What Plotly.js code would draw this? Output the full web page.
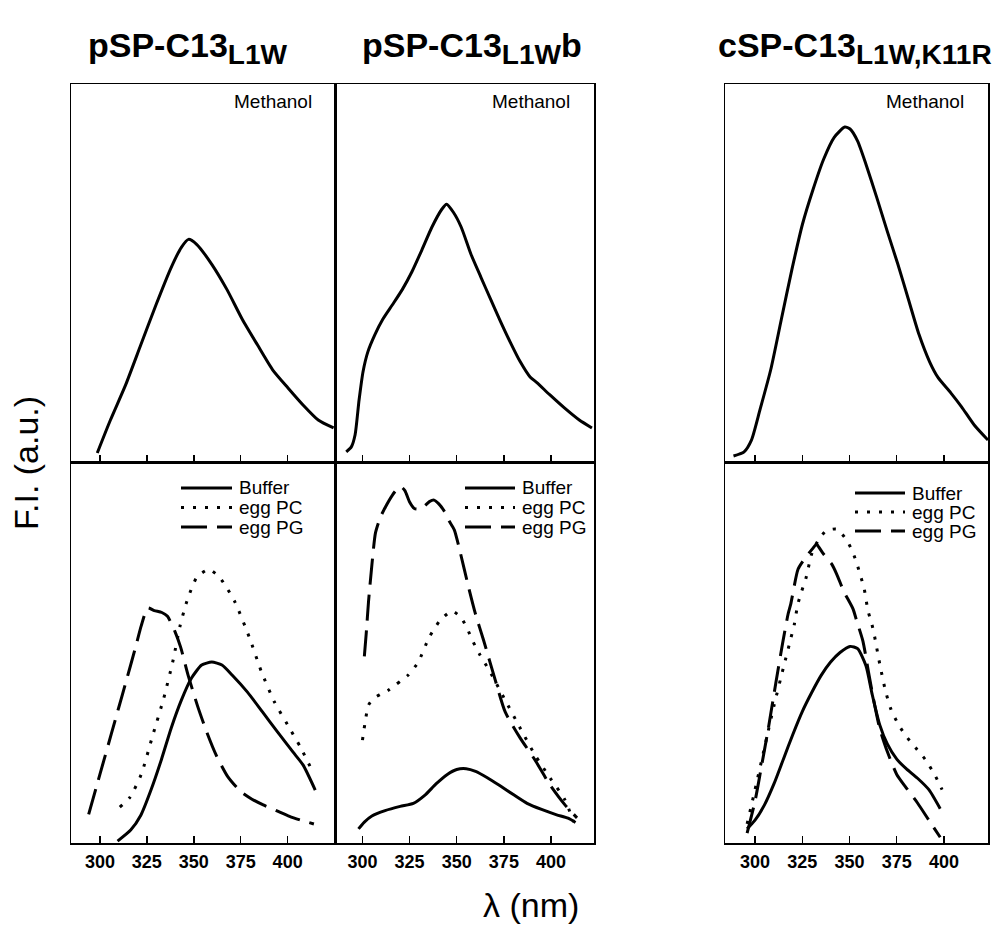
<!DOCTYPE html>
<html>
<head>
<meta charset="utf-8">
<script src="https://cdn.plot.ly/plotly-3.0.1.min.js"></script>
<style>html,body{margin:0;padding:0;background:#fff;}#chart{width:992px;height:934px;}</style>
</head>
<body>
<div id="chart"></div>
<script>
// ---------- data (wavelength in nm, fluorescence intensity in a.u., 0-100 scale per panel) ----------
const panelTitles = ['pSP-C13<sub><span style="font-size:118%">L1W</span></sub>',
                     'pSP-C13<sub><span style="font-size:118%">L1W</span></sub>b',
                     'cSP-C13<sub><span style="font-size:118%">L1W,K11R</span></sub>'];
const seriesNames = ['Buffer', 'egg PC', 'egg PG'];
const topLabel = 'Methanol';
const tickValues = [300, 325, 350, 375, 400];
const tickLabels = ['300', '325', '350', '375', '400'];

// Panel 1: pSP-C13 L1W
const p1_meth_x = [298.6,305.6,313.7,321.8,329.9,338,343.4,347.2,351.5,359.6,367.7,375.9,383.9,392,400.2,408.2,416.3,424.5];
const p1_meth_y = [2.4,11.1,20.4,31.0,41.6,51.5,56.8,58.9,57.6,52.3,45.6,37.7,31.0,24.4,19.6,15.1,11.1,9.0];
const p1_buf_x = [309.4,316.4,321.8,327.2,332.7,338,343.4,348.8,354.2,359.6,365,370.4,378.6,386.6,394.7,402.8,408.2,414.7];
const p1_buf_y = [0.5,3.4,7.3,13.9,21.8,30.2,37.5,43.3,46.7,47.5,46.7,44.1,39.6,34.4,29.1,23.9,20.5,13.9];
const p1_pc_x = [310.6,316,322,328,334,339,342.6,346.3,351.6,358,363.8,371.8,379.8,386,393,400,407,414];
const p1_pc_y = [9.4,12,18,28,38,48,56.8,63.4,69.7,71.8,69.7,63.4,53.7,45,37,31,25,18];
const p1_pg_x = [294,298,302,306,310,314,319,322,325.5,329,333,336,340,343,347,352,357,362,368,375,381,387,394,401,407,414];
const p1_pg_y = [7.5,14.5,21.5,28.5,35.5,42.5,51.4,57,61.7,61,60.5,59.5,55.5,51.4,44,36,29,23,17.5,13.5,11.5,10,8.5,7,6,5];

// Panel 2: pSP-C13 L1W b
const p2_meth_x = [291.4,294.1,296.1,298.2,300.3,302.9,306.6,310.7,315.9,321.1,326.3,331.6,336.8,342,344.6,348.3,352.4,357.6,362.9,368,373.3,378.5,383.7,388.9,392.5,399.3,407.1,415,421.7];
const p2_meth_y = [2.7,4.0,7.2,16.4,23.9,29.2,33.7,37.7,41.6,45.6,50.4,56.2,62.1,66.8,68.2,66.0,62.1,54.9,48.8,43.0,37.1,31.6,26.5,22.5,21.0,17.8,14.3,11.1,9.0];
const p2_buf_x = [297.9,301,305,312,320,327,333,339,345,350,355,360,366,373,380,387.3,395,403,409,413];
const p2_buf_y = [3.7,5.5,7.1,8.5,9.6,10.4,12.5,15.5,18,19.3,19.5,18.8,17.2,15,12.7,10.4,8.8,7.4,6.5,5.4];
const p2_pc_x = [300,301.5,303.2,306,309.5,313.5,317.5,321,324.3,329.6,335.4,341.3,347.6,352.4,355.6,358.7,362.4,367.7,375.7,383.6,391.5,399.5,407.4,412];
const p2_pc_y = [27,32,36.2,38,39,40,41.5,42.8,44.1,47.5,54,58.5,60.9,59.1,56.2,52.8,49.3,44.9,37.5,30.2,23.1,17.1,11.3,5.5];
const p2_pg_x = [301,302,303.2,305,306.9,309.5,312.2,315.9,318.5,320.4,322.5,325,327.5,330.4,333,335.5,338,340.5,343.5,346,348.7,352,356,360,364.2,370.4,375.7,383.6,391.5,399.5,407.4,413.8];
const p2_pg_y = [49,55,63.3,73,81.4,85.5,88.2,91.3,93,93.5,92.5,89.5,87.8,87.7,88.5,89.6,90,89,87,84.5,82.2,76,67.7,60,53.3,42.8,34.4,27.6,21.8,15.2,10,6.6];

// Panel 3: cSP-C13 L1W,K11R
const p3_meth_x = [288.6,294.2,298.1,302.6,308.3,313.9,319.5,325.1,330.7,336.3,341.9,347.5,350.3,354.3,358.7,364.4,370,375.6,381.2,386.8,392.4,396.9,403.6,409.3,416,423.3];
const p3_meth_y = [1.6,2.7,5.8,13.8,24.4,37.7,50.9,62.9,72.1,80.1,85.9,88.6,88.1,84.9,78.8,70.0,61.0,52.3,43.0,33.7,26.5,22.3,18.3,14.6,9.8,5.8];
const p3_buf_x = [295.8,300,305,310,315,320,325,330,335,340,345,350.3,354.3,358.7,362,366,370,375,380,386,392,398];
const p3_buf_y = [3.7,6,10,15.5,22,28.5,34.5,39.5,44,47.5,50,51.6,51,46.5,39,31,26,22,19.5,17,14,9];
const p3_pc_x = [295.8,300,305,310,315,319,320.8,322.6,324.7,327,330,333.5,337.6,343.2,348.5,351.9,353.8,355.9,357.7,359.8,361.7,363,366,369,372,376,380,385,390,395,399];
const p3_pc_y = [5,14,25,36,46,53.8,57.4,62.6,66.1,69.6,75.9,79.5,81.9,82.4,79.5,76.1,73.5,70,66.9,60.9,57.7,54.9,47,40,35,31,28,25,22,18,14];
const p3_pg_x = [295.8,300,303,307,311,314.8,317.5,318.9,322.8,326.5,330.7,332.6,333.3,336,340.6,343.2,347,351.9,353.8,357.1,360,363,366,370,375,380,386,392,398];
const p3_pg_y = [2.6,11,19,30,42,53,60.1,62.7,71.9,74.8,77.4,78.5,78,76,73.2,70.6,66,61.4,58.3,53,45,37,30,24,18,14.5,10.5,6,1.5];

// ---------- layout helpers ----------
const W = 992, H = 934;
const fx = x => x / W;
const fy = y => 1 - y / H;
const FONT = 'Liberation Sans, Arial, Helvetica, sans-serif';

const cols = [
  {x0: 71, x1: 335.5, range: [284.6, 425.5], title: 188},
  {x0: 335.5, x1: 594, range: [285.7, 422.8], title: 472},
  {x0: 725, x1: 988, range: [284.1, 423.3], title: 855}
];
const rows = [{y0: 84, y1: 462}, {y0: 462, y1: 843}];

const dashes = ['solid', '3px,9px', '26px,10px'];

const data = [];
const layout = {
  width: W, height: H,
  margin: {l: 0, r: 0, t: 0, b: 0},
  paper_bgcolor: '#fff', plot_bgcolor: '#fff',
  showlegend: false,
  font: {family: FONT, color: '#000'},
  annotations: [], shapes: []
};

function lineTrace(x, y, dash, ax, name) {
  const suf = ax === 1 ? '' : ax;
  return {
    x: x, y: y, type: 'scatter', mode: 'lines', name: name,
    xaxis: 'x' + suf, yaxis: 'y' + suf,
    line: {color: '#000', width: 3, dash: dash, shape: 'spline', smoothing: 0.6},
    hoverinfo: 'skip'
  };
}

const meth = [[p1_meth_x, p1_meth_y], [p2_meth_x, p2_meth_y], [p3_meth_x, p3_meth_y]];
const lower = [
  [[p1_buf_x, p1_buf_y], [p1_pc_x, p1_pc_y], [p1_pg_x, p1_pg_y]],
  [[p2_buf_x, p2_buf_y], [p2_pc_x, p2_pc_y], [p2_pg_x, p2_pg_y]],
  [[p3_buf_x, p3_buf_y], [p3_pc_x, p3_pc_y], [p3_pg_x, p3_pg_y]]
];
// legend key placement (pixels): sample start, sample end, text start, first row y, row step
const legendKeys = [[181, 232, 237, 488, 19.5], [465, 515, 520, 488, 19.5], [855, 905, 910, 493, 19]];

for (let c = 0; c < 3; c++) {
  const topAx = c + 1, botAx = c + 4;
  data.push(lineTrace(meth[c][0], meth[c][1], 'solid', topAx, topLabel));
  for (let s = 0; s < 3; s++) {
    data.push(lineTrace(lower[c][s][0], lower[c][s][1], dashes[s], botAx, seriesNames[s]));
  }
  for (let r = 0; r < 2; r++) {
    const ax = r === 0 ? topAx : botAx;
    const suf = ax === 1 ? '' : ax;
    layout['xaxis' + suf] = {
      domain: [fx(cols[c].x0), fx(cols[c].x1)],
      range: cols[c].range,
      anchor: 'y' + suf,
      showline: true, mirror: true, linecolor: '#000', linewidth: 1.5,
      showgrid: false, zeroline: false,
      ticks: 'inside', ticklen: 7, tickwidth: 1.5, tickcolor: '#000',
      tickvals: tickValues, ticktext: tickLabels,
      showticklabels: r === 1,
      tickfont: {family: FONT, size: 18, color: '#000', weight: 'bold'},
      ticklabelstandoff: 2,
      fixedrange: true
    };
    layout['yaxis' + suf] = {
      domain: [fy(rows[r].y1), fy(rows[r].y0)],
      range: [0, 100],
      anchor: 'x' + suf,
      showline: true, mirror: true, linecolor: '#000', linewidth: 1.5,
      showgrid: false, zeroline: false, ticks: '', showticklabels: false,
      fixedrange: true
    };
  }
  // legend key for the lower panel
  const k = legendKeys[c];
  for (let s = 0; s < 3; s++) {
    const yy = k[3] + s * k[4];
    layout.shapes.push({
      type: 'line', xref: 'paper', yref: 'paper',
      x0: fx(k[0]), x1: fx(k[1]), y0: fy(yy), y1: fy(yy),
      line: {color: '#000', width: 3, dash: dashes[s]}
    });
    layout.annotations.push({
      xref: 'paper', yref: 'paper', x: fx(k[2]), y: fy(yy),
      xanchor: 'left', yanchor: 'middle', showarrow: false,
      text: seriesNames[s], font: {family: FONT, size: 19, color: '#000'}
    });
  }
  // panel title
  layout.annotations.push({
    xref: 'paper', yref: 'paper',
    x: fx(cols[c].title), y: fy(48),
    xanchor: 'center', yanchor: 'middle', showarrow: false,
    text: '<b>' + panelTitles[c] + '</b>',
    font: {family: FONT, size: 34, color: '#000'}
  });
  // Methanol label
  layout.annotations.push({
    xref: 'paper', yref: 'paper',
    x: fx(cols[c].x1 - 22), y: fy(101),
    xanchor: 'right', yanchor: 'middle', showarrow: false,
    text: topLabel,
    font: {family: FONT, size: 19, color: '#000'}
  });
}

// axis titles
layout.annotations.push({
  xref: 'paper', yref: 'paper', x: fx(26), y: fy(463),
  xanchor: 'center', yanchor: 'middle', showarrow: false, textangle: -90,
  text: 'F.I. (a.u.)', font: {family: FONT, size: 34, color: '#000'}
});
layout.annotations.push({
  xref: 'paper', yref: 'paper', x: fx(531), y: fy(905),
  xanchor: 'center', yanchor: 'middle', showarrow: false,
  text: 'λ (nm)', font: {family: FONT, size: 34, color: '#000'}
});

Plotly.newPlot('chart', data, layout, {staticPlot: true, displayModeBar: false});
</script>
</body>
</html>
